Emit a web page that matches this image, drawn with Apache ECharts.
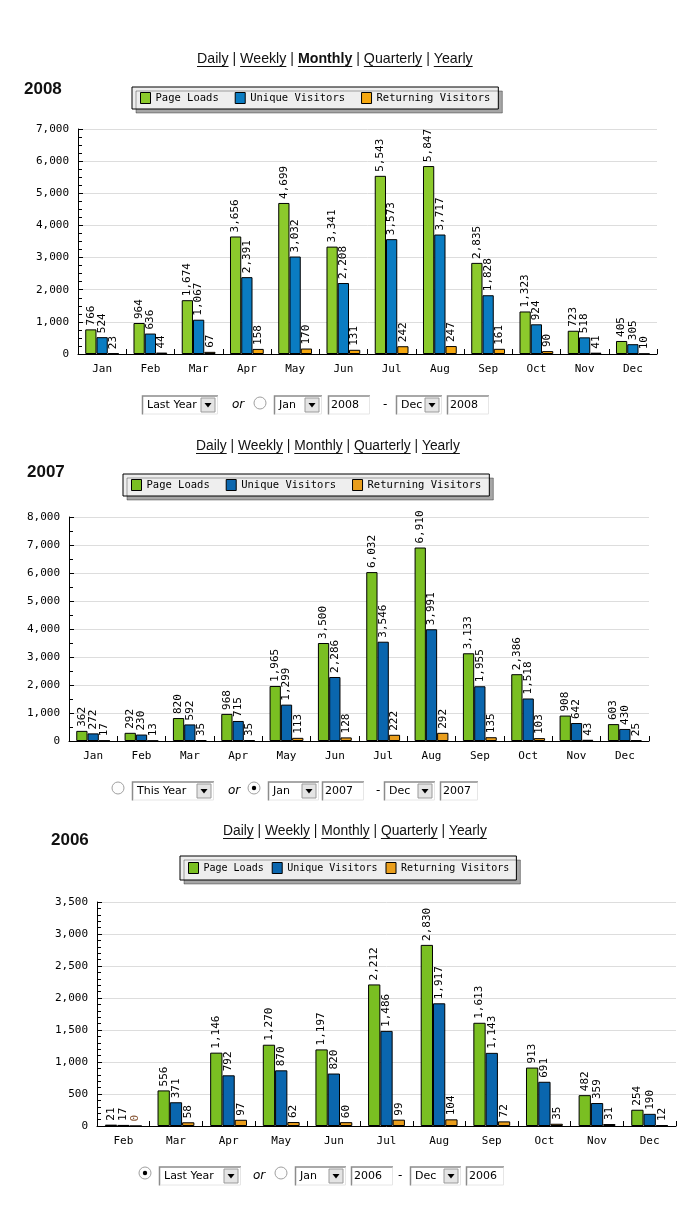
<!DOCTYPE html>
<html><head><meta charset="utf-8">
<script src="https://cdn.jsdelivr.net/npm/echarts@6/dist/echarts.min.js"></script>
<style>html,body{margin:0;padding:0;background:#fff}#c{width:700px;height:1232px}</style>
</head><body><div id="c"></div>
<script>
// ---------- data ----------
const months2008 = ['Jan','Feb','Mar','Apr','May','Jun','Jul','Aug','Sep','Oct','Nov','Dec'];
const pageLoads2008 = [766, 964, 1674, 3656, 4699, 3341, 5543, 5847, 2835, 1323, 723, 405];
const uniqueVisitors2008 = [524, 636, 1067, 2391, 3032, 2208, 3573, 3717, 1828, 924, 518, 305];
const returningVisitors2008 = [23, 44, 67, 158, 170, 131, 242, 247, 161, 90, 41, 10];

const months2007 = ['Jan','Feb','Mar','Apr','May','Jun','Jul','Aug','Sep','Oct','Nov','Dec'];
const pageLoads2007 = [362, 292, 820, 968, 1965, 3500, 6032, 6910, 3133, 2386, 908, 603];
const uniqueVisitors2007 = [272, 230, 592, 715, 1299, 2286, 3546, 3991, 1955, 1518, 642, 430];
const returningVisitors2007 = [17, 13, 35, 35, 113, 128, 222, 292, 135, 103, 43, 25];

const months2006 = ['Feb','Mar','Apr','May','Jun','Jul','Aug','Sep','Oct','Nov','Dec'];
const pageLoads2006 = [21, 556, 1146, 1270, 1197, 2212, 2830, 1613, 913, 482, 254];
const uniqueVisitors2006 = [17, 371, 792, 870, 820, 1486, 1917, 1143, 691, 359, 190];
const returningVisitors2006 = [0, 58, 97, 62, 60, 99, 104, 72, 35, 31, 12];

const seriesNames = ['Page Loads', 'Unique Visitors', 'Returning Visitors'];
const yearTitles = ['2008', '2007', '2006'];
const navLinks = ['Daily', 'Weekly', 'Monthly', 'Quarterly', 'Yearly'];
const yMax = [7000, 8000, 3500];
const yStep = [1000, 1000, 500];

// ---------- styling ----------
const MONO = 'DejaVu Sans Mono';
const SANS = 'Liberation Sans';
const FORM = 'DejaVu Sans';
const palettes = [
  ['#8cca2c', '#0a7cc2', '#f5a70f'],
  ['#7abf22', '#0a66ae', '#e99e1c'],
  ['#7abf22', '#0a66ae', '#e99e1c']
];
const grids = [
  {left: 78, top: 129, width: 579, height: 225},
  {left: 69, top: 517, width: 580, height: 224},
  {left: 97, top: 902, width: 579, height: 224}
];
const minorSplits = [4, 2, 5];
const charts = [
  {cats: months2008, vals: [pageLoads2008, uniqueVisitors2008, returningVisitors2008]},
  {cats: months2007, vals: [pageLoads2007, uniqueVisitors2007, returningVisitors2007]},
  {cats: months2006, vals: [pageLoads2006, uniqueVisitors2006, returningVisitors2006]}
];
const fmt = v => Number(v).toLocaleString('en-US');

const xAxis = [], yAxis = [], series = [];
charts.forEach((c, i) => {
  xAxis.push({
    type: 'category', gridIndex: i, data: c.cats,
    axisLine: {lineStyle: {color: '#000', width: 1}},
    axisTick: {show: true, inside: true, length: 5, lineStyle: {color: '#000'}},
    axisLabel: {fontFamily: MONO, fontSize: 11, color: '#000', margin: 10}
  });
  yAxis.push({
    type: 'value', gridIndex: i, min: 0, max: yMax[i], interval: yStep[i],
    axisLine: {show: true, lineStyle: {color: '#000', width: 1}},
    axisTick: {show: true, inside: true, length: 5, lineStyle: {color: '#000'}},
    minorTick: {show: true, splitNumber: minorSplits[i], length: 4, lineStyle: {color: '#000'}},
    splitLine: {lineStyle: {color: '#dddddd'}},
    axisLabel: {fontFamily: MONO, fontSize: 11, color: '#000', margin: 9, formatter: v => fmt(v)}
  });
  c.vals.forEach((arr, k) => {
    series.push({
      type: 'bar', name: seriesNames[k], xAxisIndex: i, yAxisIndex: i,
      barGap: '0%', barCategoryGap: '30%',
      itemStyle: {color: palettes[i][k], borderColor: '#000', borderWidth: 1},
      label: {
        show: true, position: 'top', rotate: 90, align: 'left', verticalAlign: 'middle',
        distance: 4, fontFamily: MONO, fontSize: 11, color: '#000',
        formatter: p => fmt(p.value)
      },
      data: arr.map(v => v === 0 ? {value: v, label: {color: '#8a5a3a'}} : v)
    });
  });
});

// ---------- legends ----------
const legendPos = [
  {left: 132, top: 87, fontSize: 10.5, itemGap: 16, padding: [5, 8, 5, 8]},
  {left: 123, top: 474, fontSize: 10.5, itemGap: 16, padding: [5, 8, 5, 8]},
  {left: 180, top: 856, fontSize: 10, itemGap: 8, padding: [6, 7, 6, 8]}
];
const legend = legendPos.map((lp, i) => ({
  left: lp.left, top: lp.top, orient: 'horizontal', itemGap: lp.itemGap,
  itemWidth: 10, itemHeight: 11, padding: lp.padding,
  backgroundColor: '#eeeeee', borderColor: '#000', borderWidth: 1,
  shadowColor: 'rgba(0,0,0,0.35)', shadowBlur: 0, shadowOffsetX: 4, shadowOffsetY: 4,
  selectedMode: false,
  textStyle: {fontFamily: MONO, fontSize: lp.fontSize, color: '#000'},
  data: seriesNames.map((n, k) => ({name: n, icon: 'rect',
    itemStyle: {color: palettes[i][k], borderColor: '#000', borderWidth: 1}}))
}));

// ---------- graphics: titles, links, form rows ----------
const graphic = [];
const mctx = document.createElement('canvas').getContext('2d');
function tw(text, font) { mctx.font = font; return mctx.measureText(text).width; }

// year titles
[[24, 91], [27, 474], [51, 842]].forEach((p, i) => {
  graphic.push({type: 'text', left: p[0], top: p[1] - 10,
    style: {text: yearTitles[i], font: 'bold 17px "Liberation Sans"', fill: '#111'}});
});

// nav links
function linkRow(x0, targetW, cy, boldIdx) {
  let base = 13;
  const measure = fs => {
    let w = 0;
    navLinks.forEach((t, j) => {
      w += tw(t, (j === boldIdx ? 'bold ' : '') + fs + 'px "' + SANS + '"');
      if (j < navLinks.length - 1) w += tw(' | ', fs + 'px "' + SANS + '"');
    });
    return w;
  };
  const fs = base * targetW / measure(base);
  let x = x0;
  navLinks.forEach((t, j) => {
    const font = (j === boldIdx ? 'bold ' : '') + fs.toFixed(2) + 'px "' + SANS + '"';
    const w = tw(t, font);
    graphic.push({type: 'text', x: x, y: cy, style: {text: t, font: font, fill: '#111', textVerticalAlign: 'middle'}});
    graphic.push({type: 'line', shape: {x1: x, y1: cy + 7.5, x2: x + w, y2: cy + 7.5}, style: {stroke: '#111', lineWidth: 1}});
    x += w;
    if (j < navLinks.length - 1) {
      const sf = fs.toFixed(2) + 'px "' + SANS + '"';
      graphic.push({type: 'text', x: x, y: cy, style: {text: ' | ', font: sf, fill: '#111', textVerticalAlign: 'middle'}});
      x += tw(' | ', sf);
    }
  });
}
linkRow(197, 276, 59, 2);
linkRow(196, 264, 446, -1);
linkRow(223, 264, 831, -1);

const FF = '11px "' + FORM + '"';
function sunkenBox(x, cy, w, h) {
  const y = cy - h / 2;
  graphic.push({type: 'rect', shape: {x: x, y: y, width: w, height: h}, style: {fill: '#fff', stroke: null}});
  graphic.push({type: 'polyline', shape: {points: [[x + 0.5, y + h], [x + 0.5, y + 0.5], [x + w, y + 0.5]]}, style: {stroke: '#8c8c8c', lineWidth: 1.5, fill: null}});
  graphic.push({type: 'polyline', shape: {points: [[x + 1, y + h - 0.5], [x + w - 0.5, y + h - 0.5], [x + w - 0.5, y + 1]]}, style: {stroke: '#e6e6e6', lineWidth: 1, fill: null}});
}
function selectBox(x, cy, w, text) {
  const h = 19;
  sunkenBox(x, cy, w, h);
  graphic.push({type: 'text', x: x + 5, y: cy, style: {text: text, font: FF, fill: '#000', textVerticalAlign: 'middle'}});
  const bx = x + w - 17, by = cy - 7;
  graphic.push({type: 'rect', shape: {x: bx, y: by, width: 14, height: 14}, style: {fill: '#e4e4e4', stroke: '#9a9a9a', lineWidth: 1}});
  graphic.push({type: 'polygon', shape: {points: [[bx + 3.5, by + 5], [bx + 10.5, by + 5], [bx + 7, by + 9.5]]}, style: {fill: '#000'}});
}
function inputBox(x, cy, w, text) {
  sunkenBox(x, cy, w, 19);
  graphic.push({type: 'text', x: x + 3, y: cy, style: {text: text, font: FF, fill: '#000', textVerticalAlign: 'middle'}});
}
function radio(cx, cy, checked) {
  graphic.push({type: 'circle', shape: {cx: cx, cy: cy, r: 6}, style: {fill: '#fdfdfd', stroke: '#a0a0a0', lineWidth: 1}});
  if (checked) graphic.push({type: 'circle', shape: {cx: cx, cy: cy, r: 2.2}, style: {fill: '#000'}});
}
function plain(x, cy, text, italic) {
  graphic.push({type: 'text', x: x, y: cy, style: {text: text, font: (italic ? 'italic ' : '') + '12px "' + FORM + '"', fill: '#000', textVerticalAlign: 'middle'}});
}
// row 1 (2008)
selectBox(142, 405, 76, 'Last Year'); plain(232, 405, 'or', true); radio(260, 403, false);
selectBox(274, 405, 48, 'Jan'); inputBox(328, 405, 42, '2008'); plain(383, 405, '-', false);
selectBox(396, 405, 46, 'Dec'); inputBox(447, 405, 42, '2008');
// row 2 (2007)
radio(118, 788, false); selectBox(132, 791, 82, 'This Year'); plain(228, 791, 'or', true); radio(254, 788, true);
selectBox(268, 791, 51, 'Jan'); inputBox(322, 791, 42, '2007'); plain(376, 791, '-', false);
selectBox(384, 791, 51, 'Dec'); inputBox(440, 791, 38, '2007');
// row 3 (2006)
radio(145, 1173, true); selectBox(159, 1176, 82, 'Last Year'); plain(253, 1176, 'or', true); radio(281, 1173, false);
selectBox(295, 1176, 51, 'Jan'); inputBox(351, 1176, 42, '2006'); plain(398, 1176, '-', false);
selectBox(410, 1176, 51, 'Dec'); inputBox(466, 1176, 38, '2006');

const chart = echarts.init(document.getElementById('c'));
chart.setOption({
  animation: false,
  backgroundColor: '#fff',
  grid: grids,
  xAxis: xAxis,
  yAxis: yAxis,
  legend: legend,
  series: series,
  graphic: graphic
});
</script>
</body></html>
